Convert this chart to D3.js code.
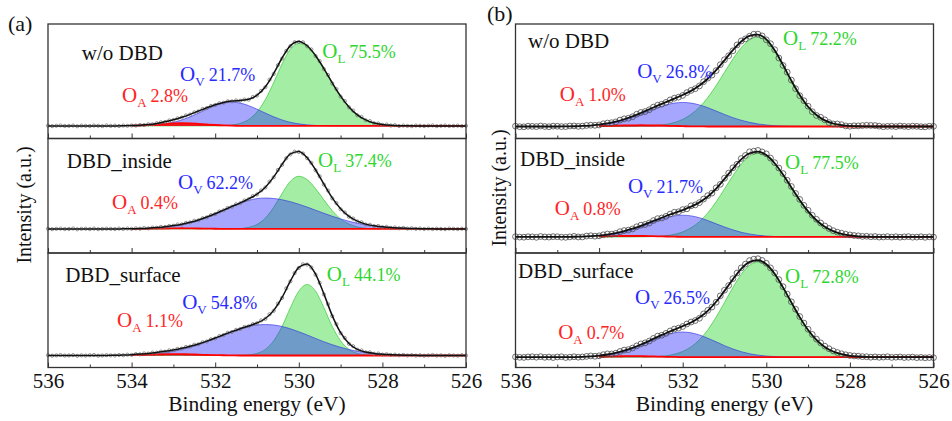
<!DOCTYPE html>
<html>
<head>
<meta charset="utf-8">
<script src="https://cdn.jsdelivr.net/npm/d3@7"></script>
<style>
  body { margin: 0; background: #fff; }
  text { font-family: "Liberation Serif", "Times New Roman", serif; }
</style>
</head>
<body>
<div id="chart"></div>
<script>
// binding energy grids (eV): fitted curves use 0.2 eV, measured scans 0.1 eV
var eFit = [536.0,535.8,535.6,535.4,535.2,535.0,534.8,534.6,534.4,534.2,534.0,533.8,533.6,533.4,533.2,533.0,532.8,532.6,532.4,532.2,
  532.0,531.8,531.6,531.4,531.2,531.0,530.8,530.6,530.4,530.2,530.0,529.8,529.6,529.4,529.2,529.0,528.8,528.6,528.4,528.2,
  528.0,527.8,527.6,527.4,527.2,527.0,526.8,526.6,526.4,526.2,526.0];
var eScan = [536.0,535.9,535.8,535.7,535.6,535.5,535.4,535.3,535.2,535.1,535.0,534.9,534.8,534.7,534.6,534.5,534.4,534.3,534.2,534.1,
  534.0,533.9,533.8,533.7,533.6,533.5,533.4,533.3,533.2,533.1,533.0,532.9,532.8,532.7,532.6,532.5,532.4,532.3,532.2,532.1,
  532.0,531.9,531.8,531.7,531.6,531.5,531.4,531.3,531.2,531.1,531.0,530.9,530.8,530.7,530.6,530.5,530.4,530.3,530.2,530.1,
  530.0,529.9,529.8,529.7,529.6,529.5,529.4,529.3,529.2,529.1,529.0,528.9,528.8,528.7,528.6,528.5,528.4,528.3,528.2,528.1,
  528.0,527.9,527.8,527.7,527.6,527.5,527.4,527.3,527.2,527.1,527.0,526.9,526.8,526.7,526.6,526.5,526.4,526.3,526.2,526.1,526.0];

var sampleNames = ["w/o DBD", "DBD_inside", "DBD_surface"];
var panelTags = ["(a)", "(b)"];
var majorTicks = [536, 534, 532, 530, 528, 526];
var minorTicks = [535, 533, 531, 529, 527];
var fitWindow = [534.0, 526.0];

// background level of each spectrum (a.u.)
var bgA = [11, 21, 10.5];
var bgB = [10.5, 14, 9];

// panel (a) fitted components
var oaA1 = [0,0,0,0,0,0,0,0,0,0.1, 0.2,0.4,0.8,1.3,1.8,2.2,2.3,2.2,1.8,1.3, 0.8,0.4,0.2,0.1,0,0,0,0,0,0,
  0,0,0,0,0,0,0,0,0,0, 0,0,0,0,0,0,0,0,0,0, 0];
var ovA1 = [0,0,0,0,0,0,0,0,0,0, 0.1,0.2,0.4,0.9,1.8,3.1,5.2,7.9,11.2,14.6, 17.7,19.9,20.7,19.9,17.7,14.6,11.2,7.9,5.2,3.1,
  1.8,0.9,0.4,0.2,0.1,0,0,0,0,0, 0,0,0,0,0,0,0,0,0,0, 0];
var olA1 = [0,0,0,0,0,0,0,0,0,0, 0,0,0,0,0,0,0,0,0,0, 0,0.2,0.8,2.2,5.5,12.2,23.0,37.9,54.1,67.0,
  72,69.1,61.1,49.9,37.5,26.0,16.6,9.7,5.3,2.6, 1.2,0.5,0.2,0.1,0,0,0,0,0,0, 0];

var oaA2 = [0,0,0,0,0,0,0,0,0,0, 0,0.1,0.2,0.3,0.4,0.55,0.6,0.55,0.4,0.3, 0.2,0.1,0,0,0,0,0,0,0,0,
  0,0,0,0,0,0,0,0,0,0, 0,0,0,0,0,0,0,0,0,0, 0];
var ovA2 = [0,0,0,0,0,0,0,0,0,0.1, 0.2,0.3,0.5,0.9,1.5,2.4,3.6,5.3,7.5,10.1, 13.1,16.4,19.6,22.5,24.9,26.5,27,26.6,25.5,23.8,
  21.6,19.1,16.4,13.7,11.1,8.8,6.7,5.0,3.6,2.6, 1.8,1.2,0.8,0.5,0.3,0.2,0.1,0,0,0, 0];
var olA2 = [0,0,0,0,0,0,0,0,0,0, 0,0,0,0,0,0,0,0,0,0, 0,0,0.1,0.3,1.4,3.9,9.5,18.9,30.9,41.7,
  46,43.1,35.3,25.4,16.0,8.8,4.3,1.8,0.6,0.2, 0.1,0,0,0,0,0,0,0,0,0, 0];

var oaA3 = [0,0,0,0,0,0,0,0,0.1,0.2, 0.3,0.5,0.7,1.0,1.1,1.2,1.1,1.0,0.7,0.5, 0.3,0.2,0.1,0,0,0,0,0,0,0,
  0,0,0,0,0,0,0,0,0,0, 0,0,0,0,0,0,0,0,0,0, 0];
var ovA3 = [0,0,0,0,0,0,0,0,0.1,0.2, 0.4,0.7,1.1,1.7,2.5,3.6,5.2,7.1,9.4,12.0, 14.9,17.9,20.7,23.3,25.3,26.6,27,26.6,25.3,23.3,
  20.7,17.9,14.9,12.0,9.4,7.1,5.2,3.6,2.5,1.7, 1.1,0.7,0.4,0.2,0.1,0,0,0,0,0, 0];
var olA3 = [0,0,0,0,0,0,0,0,0,0, 0,0,0,0,0,0,0,0,0,0, 0,0,0,0.1,0.5,1.8,5.3,12.8,25.4,41.8,
  56.2,62,56.2,41.8,25.4,12.8,5.3,1.8,0.5,0.1, 0,0,0,0,0,0,0,0,0,0, 0];

// panel (a) measured spectra
var obsA1 = [11.2,10.8,11.1,11.4,10.9,11.0,11.3,10.7,11.2,11.0,10.9,11.3,11.1,10.8,11.4,11.0,11.2,10.9,11.3,11.1,11.4,
  11.3,11.8,11.7,12.4,12.5,13.4,14.1,14.4,15.7,16.1,17.6,18.3,20.1,20.9,22.8,23.7,25.8,26.6,28.5,29.2,
  30.8,31.2,32.5,32.4,33.3,33.0,34.0,33.9,36.2,37.5,41.6,44.8,51.3,56.4,64.0,69.8,76.5,80.7,84.1,84.3,
  84.0,80.5,77.8,72.0,67.6,60.6,55.4,48.1,43.2,36.6,32.7,27.2,24.4,20.3,18.8,15.9,15.2,13.3,13.1,11.9,
  12.2,11.3,11.6,10.9,11.3,11.0,10.8,11.3,11.1,10.9,11.2,11.4,10.8,11.1,11.3,10.9,11.0,11.2,10.8,11.1];
var obsA2 = [21.2,20.8,21.1,21.3,20.9,21.0,21.4,20.7,21.1,21.2,20.9,21.3,20.8,21.0,21.2,21.1,20.9,21.3,21.0,21.4,21.1,
  21.5,21.2,21.8,21.5,22.2,22.0,22.8,22.7,23.6,23.8,24.9,25.0,26.3,26.7,28.2,28.6,30.4,31.1,33.1,34.0,
  36.2,37.3,39.4,40.4,42.6,43.5,45.9,47.0,49.7,51.1,54.7,57.2,62.3,66.1,72.5,77.0,82.8,86.1,88.5,88.2,
  86.9,82.8,78.7,72.3,67.0,59.7,54.5,47.7,43.6,38.2,35.4,31.7,30.1,27.5,26.8,24.9,24.7,23.5,23.6,22.6,
  22.8,21.9,22.3,21.6,21.9,21.3,21.6,21.1,21.4,21.0,21.3,20.9,21.2,21.0,20.8,21.3,21.1,20.9,21.2,21.0];
var obsA3 = [10.7,10.3,10.6,10.9,10.4,10.5,10.8,10.2,10.6,10.4,10.7,10.9,10.3,10.5,10.8,10.6,10.5,10.9,10.7,11.2,11.0,
  11.7,11.5,12.3,12.1,13.0,12.9,13.9,13.8,15.0,15.1,16.3,16.5,18.0,18.3,19.9,20.3,22.1,22.7,24.6,25.4,
  27.5,28.3,30.3,31.0,32.9,33.6,35.4,36.0,37.9,38.6,41.1,42.5,46.5,49.5,55.8,60.8,69.1,75.2,82.5,87.0,
  90.1,89.9,87.3,81.1,74.0,63.8,55.3,44.9,37.9,30.0,25.8,20.7,18.6,15.6,14.9,13.2,13.2,12.0,12.2,11.3,
  11.6,11.0,11.2,10.7,11.0,10.5,10.8,10.4,10.7,10.3,10.6,10.9,10.4,10.6,10.2,10.7,10.5,10.3,10.8,10.5];

// panel (b) fitted components
var oaB1 = [0,0,0,0,0,0,0,0,0.1,0.1, 0.3,0.5,0.7,0.9,1.0,1.1,1.0,0.9,0.7,0.5, 0.3,0.1,0.1,0,0,0,0,0,0,0,
  0,0,0,0,0,0,0,0,0,0, 0,0,0,0,0,0,0,0,0,0, 0];
var ovB1 = [0,0,0,0,0,0,0.1,0.2,0.4,0.7, 1.3,2.2,3.6,5.4,7.7,10.5,13.5,16.4,18.8,20.4, 21,20.4,18.8,16.4,13.5,10.5,7.7,5.4,3.6,2.2,
  1.3,0.7,0.4,0.2,0.1,0,0,0,0,0, 0,0,0,0,0,0,0,0,0,0, 0];
var olB1 = [0,0,0,0,0,0,0,0,0,0, 0,0,0,0,0.1,0.2,0.4,0.9,1.8,3.4, 6.2,10.6,16.9,25.3,35.7,47.3,58.9,68.8,75.6,78,
  74.8,65.9,53.4,39.8,27.3,17.2,10.0,5.3,2.6,1.2, 0.5,0.2,0.1,0,0,0,0,0,0,0, 0];

var oaB2 = [0,0,0,0,0,0,0,0.1,0.1,0.25, 0.4,0.6,0.8,0.95,1.0,0.95,0.8,0.6,0.4,0.25, 0.1,0.1,0,0,0,0,0,0,0,0,
  0,0,0,0,0,0,0,0,0,0, 0,0,0,0,0,0,0,0,0,0, 0];
var ovB2 = [0,0,0,0,0,0,0,0.1,0.2,0.4, 0.8,1.5,2.6,4.1,6.2,8.7,11.5,14.3,16.8,18.4, 19,18.4,16.8,14.3,11.5,8.7,6.2,4.1,2.6,1.5,
  0.8,0.4,0.2,0.1,0,0,0,0,0,0, 0,0,0,0,0,0,0,0,0,0, 0];
var olB2 = [0,0,0,0,0,0,0,0,0,0, 0,0,0,0,0,0.1,0.2,0.5,1.1,2.3, 4.4,8.0,13.4,21.0,30.7,42.0,53.4,63.6,70.5,73,
  70.7,64.0,54.3,43.1,32.1,22.4,14.6,8.9,5.1,2.7, 1.4,0.6,0.3,0.1,0,0,0,0,0,0, 0];

var oaB3 = [0,0,0,0,0,0,0,0,0.1,0.2, 0.35,0.55,0.7,0.85,0.9,0.85,0.7,0.55,0.35,0.2, 0.1,0,0,0,0,0,0,0,0,0,
  0,0,0,0,0,0,0,0,0,0, 0,0,0,0,0,0,0,0,0,0, 0];
var ovB3 = [0,0,0,0,0,0,0,0.1,0.2,0.5, 1.0,1.8,3.0,4.8,7.2,10.1,13.4,16.6,19.4,21.3, 22,21.3,19.4,16.6,13.4,10.1,7.2,4.8,3.0,1.8,
  1.0,0.5,0.2,0.1,0,0,0,0,0,0, 0,0,0,0,0,0,0,0,0,0, 0];
var olB3 = [0,0,0,0,0,0,0,0,0,0, 0,0,0,0,0,0.1,0.2,0.6,1.2,2.6, 5.0,9.0,15.2,23.8,35.0,47.8,60.8,72.4,80.2,83,
  80.2,72.4,60.8,47.8,35.0,23.8,15.2,9.0,5.0,2.6, 1.2,0.6,0.2,0.1,0,0,0,0,0,0, 0];

// panel (b) measured spectra
var obsB1 = [10.8,10.3,10.2,10.7,10.6,10.4,10.9,10.5,10.3,10.8,10.7,10.4,10.4,10.9,11.0,10.6,10.8,11.4,11.6,11.5,
  11.8,12.9,13.5,13.8,14.5,16.1,17.2,17.7,19.0,21.2,22.7,23.5,25.1,27.4,29.1,30.0,31.5,33.7,35.2,36.1,
  37.6,40.1,42.0,43.5,45.9,49.6,52.7,55.4,59.3,64.5,68.8,72.3,76.6,81.7,85.2,87.0,89.3,91.1,91.2,89.6,
  86.2,82.8,77.6,70.3,63.8,57.9,51.0,43.5,37.4,33.0,28.2,23.4,20.1,18.5,16.3,13.9,12.7,12.7,12.1,11.0,
  10.7,11.1,11.0,11.3,11.5,11.4,11.3,10.8,10.3,10.6,10.7,10.4,10.9,10.6,10.4,10.8,10.6,10.3,10.2,10.7,10.6];
var obsB2 = [14.3,13.9,13.8,14.2,14.1,13.7,14.4,14.0,13.9,14.3,14.2,13.8,13.7,14.1,14.5,14.0,14.0,14.8,15.1,14.7,
  15.0,15.9,16.6,16.5,17.1,18.6,19.6,20.0,21.0,22.9,24.3,24.9,26.2,28.3,30.0,30.6,32.0,34.0,35.6,36.0,
  37.9,38.6,41.2,42.0,44.0,47.1,50.1,52.3,56.9,60.0,65.3,69.8,74.4,77.5,82.5,85.2,88.4,88.9,89.6,88.3,
  86.6,82.9,78.9,74.2,69.4,63.5,58.1,52.0,46.8,41.6,37.3,32.9,29.4,26.2,23.6,21.4,19.5,18.2,17.3,16.4,
  15.8,15.3,15.0,14.5,14.6,14.2,14.4,13.9,14.0,14.3,13.9,14.2,13.8,14.1,14.3,13.8,13.9,14.2,13.7,14.1,13.9];
var obsB3 = [9.3,8.9,8.8,9.2,9.4,9.0,9.5,8.9,9.1,8.7,9.2,9.4,8.7,9.0,9.4,9.0,9.2,9.7,10.1,9.8,
  10.2,11.2,11.9,11.8,12.5,14.0,15.2,15.6,17.0,18.9,20.6,21.5,23.1,25.4,27.4,28.2,29.8,31.9,33.6,34.4,
  35.8,38.0,39.7,41.0,43.0,46.8,49.9,52.8,57.0,62.6,67.5,71.6,77.6,82.5,87.0,90.3,93.4,94.6,95.0,93.5,
  91.0,87.0,82.6,76.8,70.6,64.1,57.4,50.9,44.5,38.8,33.4,28.9,24.8,21.5,18.6,16.4,14.5,13.1,12.0,11.1,
  10.5,10.1,9.9,9.5,9.4,9.0,9.3,8.9,9.1,9.4,8.8,9.0,9.2,8.7,8.9,9.1,8.6,8.8,8.5,8.7,8.6];

// area fractions [O_L, O_V, O_A]
var pctA = [["75.5%", "21.7%", "2.8%"], ["37.4%", "62.2%", "0.4%"], ["44.1%", "54.8%", "1.1%"]];
var pctB = [["72.2%", "26.8%", "1.0%"], ["77.5%", "21.7%", "0.8%"], ["72.8%", "26.5%", "0.7%"]];

// annotation anchors in data units [eV, intensity]
var titleAt = [[[535.19, 68.5], [535.55, 74.1], [535.59, 74.3]], [[535.70, 78.7], [535.89, 76.1], [535.94, 78.0]]];
var olAt = [[[529.44, 70.7], [529.54, 74.7], [529.33, 75.2]], [[529.60, 81.6], [529.55, 73.2], [529.55, 73.6]]];
var ovAt = [[[532.84, 50.1], [532.89, 56.3], [532.79, 50.7]], [[533.09, 53.0], [533.31, 52.0], [533.14, 55.7]]];
var oaAt = [[[534.23, 32.0], [534.47, 38.2], [534.35, 35.2]], [[534.94, 32.9], [535.06, 33.0], [534.98, 25.2]]];

var width = 952, height = 421;
var plotTop = 24, plotBottom = 367.5;
var frames = [{ x0: 48, x1: 466 }, { x0: 515.5, x1: 933.5 }];

var panelData = [
  { bg: bgA, comp: [[oaA1, ovA1, olA1], [oaA2, ovA2, olA2], [oaA3, ovA3, olA3]], obs: [obsA1, obsA2, obsA3], pct: pctA,
    r: 1.6, dotColor: "#777", dotWidth: 0.8, envWidth: 1.5, tagPos: [8, 31], ylabPos: [24, 205] },
  { bg: bgB, comp: [[oaB1, ovB1, olB1], [oaB2, ovB2, olB2], [oaB3, ovB3, olB3]], obs: [obsB1, obsB2, obsB3], pct: pctB,
    r: 2.9, dotColor: "#4a4a4a", dotWidth: 0.8, envWidth: 1.8, tagPos: [487, 21], ylabPos: [499, 188] }
];

var svg = d3.select("#chart").append("svg")
  .attr("width", width)
  .attr("height", height)
  .attr("font-family", "'Liberation Serif', 'Times New Roman', serif");

var rowH = (plotBottom - plotTop) / 3;

panelData.forEach(function (pd, p) {
  var fr = frames[p];
  var x = d3.scaleLinear().domain([536, 526]).range([fr.x0, fr.x1]);
  var g = svg.append("g");

  for (var k = 0; k < 3; k++) {
    var yb = plotTop + rowH * (k + 1);
    var y = d3.scaleLinear().domain([0, 100]).range([yb, yb - rowH]);
    var bg = pd.bg[k];
    var oa = pd.comp[k][0], ov = pd.comp[k][1], ol = pd.comp[k][2];

    var rows = eFit.map(function (e, i) {
      return { e: e, oa: oa[i], ov: ov[i], ol: ol[i], env: bg + oa[i] + ov[i] + ol[i] };
    });
    var fitRows = rows.filter(function (d) { return d.e <= fitWindow[0] && d.e >= fitWindow[1]; });

    var sub = g.append("g");

    var comp = function (key) {
      return d3.area()
        .x(function (d) { return x(d.e); })
        .y0(y(bg))
        .y1(function (d) { return y(bg + d[key]); })
        .curve(d3.curveMonotoneX);
    };
    var compLine = function (key) {
      return d3.line()
        .x(function (d) { return x(d.e); })
        .y(function (d) { return y(bg + d[key]); })
        .curve(d3.curveMonotoneX);
    };

    // O_L, then O_V over it, then O_A
    sub.append("path").datum(fitRows).attr("d", comp("ol"))
      .attr("fill", "#10d010").attr("fill-opacity", 0.38);
    sub.append("path").datum(fitRows).attr("d", compLine("ol"))
      .attr("fill", "none").attr("stroke", "#22c822").attr("stroke-opacity", 0.7).attr("stroke-width", 0.9);
    sub.append("path").datum(fitRows).attr("d", comp("ov"))
      .attr("fill", "#2020ff").attr("fill-opacity", 0.4);
    sub.append("path").datum(fitRows).attr("d", compLine("ov"))
      .attr("fill", "none").attr("stroke", "#3030e0").attr("stroke-opacity", 0.7).attr("stroke-width", 0.9);
    sub.append("path").datum(fitRows).attr("d", comp("oa"))
      .attr("fill", "#ff0000").attr("fill-opacity", 0.85);
    sub.append("path").datum(fitRows).attr("d", compLine("oa"))
      .attr("fill", "none").attr("stroke", "#ff0000").attr("stroke-width", 1.8);

    // measured points
    sub.selectAll("circle.pt").data(pd.obs[k]).enter().append("circle")
      .attr("class", "pt")
      .attr("cx", function (d, i) { return x(eScan[i]); })
      .attr("cy", function (d) { return y(d); })
      .attr("r", pd.r)
      .attr("fill", "none")
      .attr("stroke", pd.dotColor)
      .attr("stroke-width", pd.dotWidth);

    // fit envelope
    sub.append("path").datum(rows)
      .attr("d", d3.line().x(function (d) { return x(d.e); }).y(function (d) { return y(d.env); }).curve(d3.curveMonotoneX))
      .attr("fill", "none").attr("stroke", "#111").attr("stroke-width", pd.envWidth);

    // inward ticks
    var ax = sub.append("g").attr("transform", "translate(0," + yb + ")");
    ax.call(d3.axisBottom(x).tickValues(majorTicks).tickSizeInner(-5).tickSizeOuter(0).tickPadding(6)
      .tickFormat(k === 2 ? d3.format("d") : function () { return ""; }));
    ax.append("g").call(d3.axisBottom(x).tickValues(minorTicks).tickSizeInner(-3).tickSizeOuter(0).tickFormat(function () { return ""; }));
    ax.selectAll(".domain").remove();
    ax.attr("font-family", null);
    ax.selectAll("g").attr("font-family", null);
    ax.selectAll(".tick line").attr("stroke", "#333").attr("stroke-width", 1);
    ax.selectAll(".tick text").attr("fill", "#111").style("font-size", "21px");

    // frame of the sub-plot
    sub.append("rect")
      .attr("x", fr.x0).attr("y", yb - rowH)
      .attr("width", fr.x1 - fr.x0).attr("height", rowH)
      .attr("fill", "none").attr("stroke", "#333").attr("stroke-width", 1.3);

    // sample name
    sub.append("text")
      .attr("x", x(titleAt[p][k][0])).attr("y", y(titleAt[p][k][1]))
      .attr("fill", "#111").style("font-size", "21px")
      .text(sampleNames[k]);

    // component labels
    var labels = [
      { at: olAt[p][k], sub: "L", pct: pd.pct[k][0], color: "#2ed62e" },
      { at: ovAt[p][k], sub: "V", pct: pd.pct[k][1], color: "#2a2aff" },
      { at: oaAt[p][k], sub: "A", pct: pd.pct[k][2], color: "#ff2525" }
    ];
    labels.forEach(function (lb) {
      var t = sub.append("text")
        .attr("x", x(lb.at[0])).attr("y", y(lb.at[1]))
        .attr("fill", lb.color).style("font-size", "18px");
      t.append("tspan").style("font-size", "21px").text("O");
      t.append("tspan").attr("dy", 5).style("font-size", "13px").text(lb.sub);
      t.append("tspan").attr("dy", -5).attr("dx", 4).text(lb.pct);
    });
  }

  // x axis title
  g.append("text")
    .attr("x", (fr.x0 + fr.x1) / 2).attr("y", 411)
    .attr("text-anchor", "middle")
    .attr("fill", "#111").style("font-size", "21.5px")
    .text("Binding energy (eV)");

  // y axis title
  g.append("text")
    .attr("transform", "translate(" + pd.ylabPos[0] + "," + pd.ylabPos[1] + ") rotate(-90)")
    .attr("text-anchor", "middle").attr("dominant-baseline", "central")
    .attr("fill", "#111").style("font-size", "20px")
    .text("Intensity (a.u.)");

  // panel tag
  g.append("text")
    .attr("x", pd.tagPos[0]).attr("y", pd.tagPos[1])
    .attr("fill", "#111").style("font-size", "22px")
    .text(panelTags[p]);
});
</script>
</body>
</html>
